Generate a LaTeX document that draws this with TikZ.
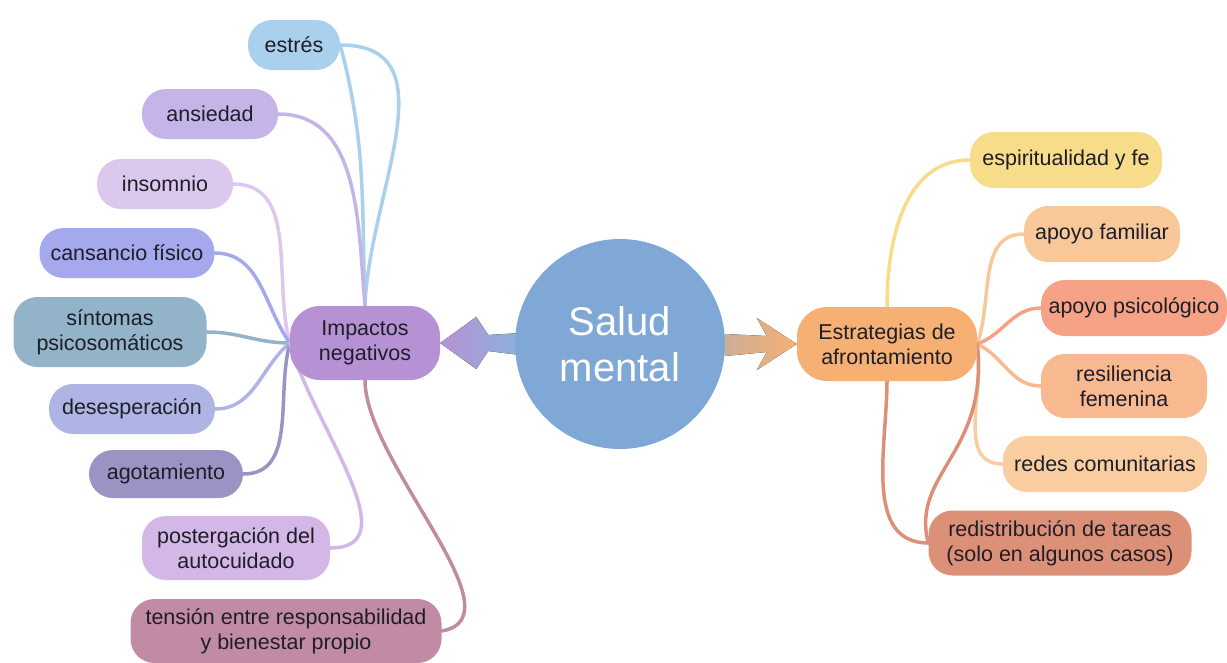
\documentclass[tikz,border=0pt]{standalone}
\usepackage{fontspec}
\setmainfont{Liberation Sans}
\usetikzlibrary{positioning,backgrounds}

\definecolor{textdark}{HTML}{1E1E28}
\definecolor{saludblue}{HTML}{7FA8D6}
\definecolor{impcol}{HTML}{B692D4}
\definecolor{estrcol}{HTML}{F7B074}
\definecolor{estrescol}{HTML}{A9D0EC}
\definecolor{ansiedadcol}{HTML}{C4B4E8}
\definecolor{insomniocol}{HTML}{DCC8EC}
\definecolor{cansanciocol}{HTML}{A3A9EC}
\definecolor{sintomascol}{HTML}{93B3C9}
\definecolor{desespcol}{HTML}{AEB5E4}
\definecolor{agotcol}{HTML}{9C93C5}
\definecolor{postcol}{HTML}{D3B7E6}
\definecolor{tensioncol}{HTML}{C18BA5}
\definecolor{espcol}{HTML}{F7DC8A}
\definecolor{famcol}{HTML}{F8C898}
\definecolor{psicocol}{HTML}{F6A286}
\definecolor{resilcol}{HTML}{F8B890}
\definecolor{redescol}{HTML}{F9CDA0}
\definecolor{rediscol}{HTML}{DC9078}

\begin{document}
\begin{tikzpicture}[
    x=1pt, y=-1pt,
    topic/.style={rounded corners=24pt, minimum height=50pt, align=center, text=textdark,
      font=\fontsize{21.5}{25}\selectfont, inner sep=2pt},
    hub/.style={topic, minimum height=74pt, rounded corners=30pt},
    link/.style={line width=3.5pt, line cap=round}
]
\useasboundingbox (0,0) rectangle (1227,662);

% centre and main branches
\node[circle, fill=saludblue, minimum size=210pt, text=white, align=center,
  font=\fontsize{40}{46}\selectfont] (salud) at (620,344) {Salud\\mental};
\node[hub, fill=impcol, minimum width=150pt] (imp) at (365,343) {Impactos\\negativos};
\node[hub, fill=estrcol, minimum width=180pt] (estr) at (887,344) {Estrategias de\\afrontamiento};

% negative impacts
\node[topic, fill=estrescol, minimum width=92pt] (estres) at (294,45) {estrés};
\node[topic, fill=ansiedadcol, minimum width=136pt] (ansiedad) at (210,114) {ansiedad};
\node[topic, fill=insomniocol, minimum width=136pt] (insomnio) at (165,184) {insomnio};
\node[topic, fill=cansanciocol, minimum width=175pt] (cansancio) at (127,253) {cansancio físico};
\node[topic, fill=sintomascol, minimum width=193pt, minimum height=70pt] (sintomas) at (110,332) {síntomas\\psicosomáticos};
\node[topic, fill=desespcol, minimum width=166pt] (desesp) at (132,409) {desesperación};
\node[topic, fill=agotcol, minimum width=154pt, minimum height=48pt] (agot) at (166,474) {agotamiento};
\node[topic, fill=postcol, minimum width=188pt, minimum height=64pt] (post) at (236,548) {postergación del\\autocuidado};
\node[topic, fill=tensioncol, minimum width=311pt, minimum height=64pt] (tension) at (286,631) {tensión entre responsabilidad\\y bienestar propio};

% coping strategies
\node[topic, fill=espcol, minimum width=192pt, minimum height=56pt] (esp) at (1066,160) {espiritualidad y fe};
\node[topic, fill=famcol, minimum width=156pt, minimum height=56pt] (fam) at (1102,234) {apoyo familiar};
\node[topic, fill=psicocol, minimum width=186pt, minimum height=56pt] (psico) at (1134,308) {apoyo psicológico};
\node[topic, fill=resilcol, minimum width=166pt, minimum height=64pt] (resil) at (1124,386) {resiliencia\\femenina};
\node[topic, fill=redescol, minimum width=204pt, minimum height=56pt] (redes) at (1105,464) {redes comunitarias};
\node[topic, fill=rediscol, minimum width=263pt, minimum height=65pt] (redis) at (1060,543) {redistribución de tareas\\(solo en algunos casos)};

\begin{scope}[on background layer]
% big arrows out of the circle
\fill[left color=impcol, right color=saludblue!90] (imp.east) -- ++(36,-26) -- ++(12,18) -- ++(32,-2)
  -- ++(0,22) -- ++(-32,-4) -- ++(-12,18) -- cycle;
\fill[left color=saludblue!35!estrcol, right color=estrcol] (estr.west) -- ++(-40,-26) -- ++(10,18) -- ++(-42,-2)
  -- ++(0,22) -- ++(42,-4) -- ++(-10,18) -- cycle;

% left branches
\draw[link, estrescol] (imp.north) to[out=92, in=-75] (estres.east);
\draw[link, estrescol] (imp.north) to[out=88, in=0, looseness=1.1] (estres.east);
\draw[link, ansiedadcol] (imp.north) to[out=95, in=0] (ansiedad.east);
\draw[link, insomniocol] (imp.west) to[out=105, in=0] (insomnio.east);
\draw[link, cansanciocol] (imp.west) to[out=125, in=0] (cansancio.east);
\draw[link, sintomascol] (imp.west) to[out=180, in=0] (sintomas.east);
\draw[link, desespcol] (imp.west) to[out=-140, in=0] (desesp.east);
\draw[link, agotcol] (imp.west) to[out=-105, in=0] (agot.east);
\draw[link, postcol] (imp.west) to[out=-75, in=0] (post.east);
\draw[link, tensioncol] (imp.south) to[out=-90, in=10, looseness=0.8] (tension.east);

% right branches
\draw[link, espcol] (estr.north) to[out=90, in=180] (esp.west);
\draw[link, famcol] (estr.east) to[out=70, in=180] (fam.west);
\draw[link, psicocol] (estr.east) to[out=20, in=180] (psico.west);
\draw[link, resilcol] (estr.east) to[out=-25, in=180] (resil.west);
\draw[link, redescol] (estr.east) to[out=-80, in=180] (redes.west);
\draw[link, rediscol] (estr.south) to[out=-90, in=180] (redis.west);
\draw[link, rediscol] (estr.east) .. controls +(12,110) and +(-18,-70) .. (redis.west);
\end{scope}
\end{tikzpicture}
\end{document}
